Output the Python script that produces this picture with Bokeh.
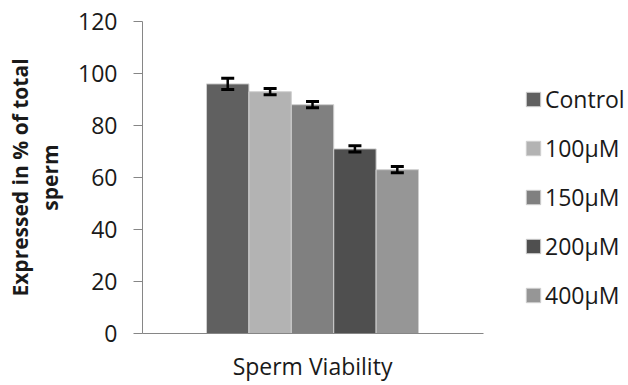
from bokeh.plotting import figure
from bokeh.models import (ColumnDataSource, Range1d, FixedTicker, Whisker, TeeHead,
                          Legend, LegendItem, Title)
from bokeh.embed import file_html
from bokeh.resources import INLINE

groups = ["Control", "100\u03bcM", "150\u03bcM", "200\u03bcM", "400\u03bcM"]
values = [96, 93, 88, 71, 63]
errors = [2.2, 1.2, 1.2, 1.2, 1.2]
colors = ["#606060", "#b3b3b3", "#808080", "#4f4f4f", "#969696"]
y_ticks = [0, 20, 40, 60, 80, 100, 120]
x_title = "Sperm Viability"
y_title_line1 = "Expressed in % of total"
y_title_line2 = "sperm"

xs = list(range(len(groups)))
src = ColumnDataSource(dict(
    x=xs, top=values, color=colors, name=groups,
    upper=[v + e for v, e in zip(values, errors)],
    lower=[v - e for v, e in zip(values, errors)],
))

FONT = "Open Sans"
TXT = "#1a1a1a"
X0, X1 = -2.01, 6.03          # extent of the visible x axis line
XEND = X0 + (628 - 142) / 42.4  # frame runs to the right edge (legend lives there)
X_MID = xs[len(xs) // 2]      # centre of the bar group, where the category label sits

p = figure(width=628, height=385, output_backend="svg", toolbar_location=None,
           x_range=Range1d(X0, XEND), y_range=Range1d(0, 120),
           min_border_left=142, min_border_right=0, min_border_top=21,
           min_border_bottom=52)
p.outline_line_color = None
p.xgrid.visible = False
p.ygrid.visible = False

bars = p.vbar(x="x", top="top", width=1.0, bottom=0, source=src,
              fill_color="color", line_color="#cfcfcf", line_width=1)

head_kw = dict(size=13, line_color="black", line_width=3)
w = Whisker(base="x", upper="upper", lower="lower", source=src,
            line_color="black", line_width=2.5, level="overlay",
            upper_head=TeeHead(**head_kw), lower_head=TeeHead(**head_kw))
p.add_layout(w)

ya = p.yaxis[0]
ya.ticker = FixedTicker(ticks=y_ticks)
ya.minor_tick_line_color = None
ya.major_tick_in = 0
ya.major_tick_out = 9
ya.axis_line_color = "#868686"
ya.major_tick_line_color = "#868686"
ya.major_label_text_font = FONT
ya.major_label_text_font_size = "23px"
ya.major_label_text_color = TXT
ya.major_label_standoff = 16
ya.axis_label = y_title_line2
ya.axis_label_text_font = FONT
ya.axis_label_text_font_style = "bold"
ya.axis_label_text_font_size = "21px"
ya.axis_label_text_color = TXT
ya.axis_label_standoff = 11

t1 = Title(text=y_title_line1, align="center", text_font=FONT,
           text_font_style="bold", text_font_size="21px", text_color=TXT,
           standoff=0)
p.add_layout(t1, "left")

# x axis: line only under the plotted group; the single category label is
# drawn as the tick label at the centre of the bar group
xa = p.xaxis[0]
xa.ticker = FixedTicker(ticks=[X_MID])
xa.major_label_overrides = {X_MID: x_title}
xa.bounds = (X0, X1)
xa.minor_tick_line_color = None
xa.major_tick_line_color = None
xa.major_tick_in = 0
xa.major_tick_out = 0
xa.major_label_text_font = FONT
xa.major_label_text_font_size = "23px"
xa.major_label_text_color = TXT
xa.major_label_standoff = 16
xa.axis_line_color = "#868686"

items = [LegendItem(label=g, renderers=[bars], index=i) for i, g in enumerate(groups)]
leg = Legend(items=items, location=(382, 22), padding=0, margin=0,
             border_line_color=None, background_fill_alpha=0,
             glyph_width=18, glyph_height=18, label_standoff=3,
             label_text_font=FONT, label_text_font_size="23px",
             label_text_color=TXT, label_height=20, spacing=17)
p.add_layout(leg)

open("out.html", "w").write(file_html(p, INLINE))
